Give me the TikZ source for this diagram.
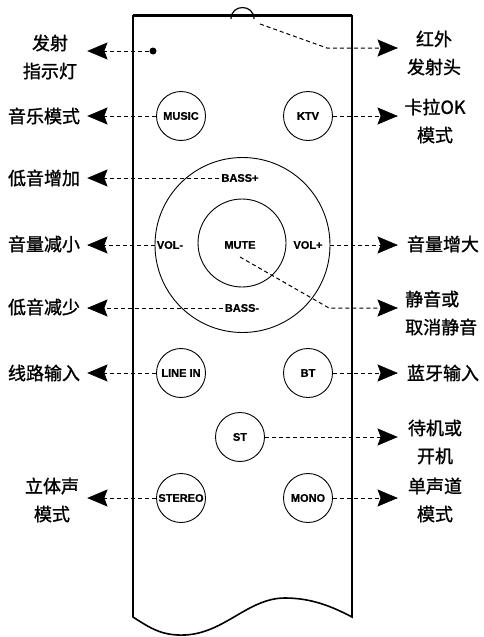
\documentclass[tikz,border=0pt]{standalone}
\usepackage{fontspec}
\setmainfont{Liberation Sans}
\newfontfamily\cjk{Noto Sans CJK SC}[FakeBold=1.2]
\newfontfamily\keyfont{Liberation Sans Bold}[FakeBold=0.8]
\usetikzlibrary{positioning}
\newcommand{\btnfont}{\keyfont\fontsize{11}{11}\selectfont}
\newcommand{\notefont}{\cjk\fontsize{18}{28}\selectfont}

\begin{document}
\begin{tikzpicture}[x=1pt,y=-1pt]
  %--------------------------------------------
  % Styles
  %--------------------------------------------
  \tikzset{
    body/.style={line width=1.6pt, black},
    button/.style={circle, draw, line width=0.9pt, minimum size=49pt, inner sep=0pt, font=\btnfont},
    ring/.style={circle, draw, line width=0.9pt, inner sep=0pt},
    keytext/.style={inner sep=0pt, font=\btnfont},
    note/.style={inner sep=0pt, align=center, font=\notefont},
    pointer/.style={line width=1pt, dash pattern=on 4pt off 3pt},
    tipleft/.pic={\filldraw[line width=0.6pt, line join=miter] (0,0) -- (19,-8) -- (16,0) -- (19,8) -- cycle;},
    tipright/.pic={\filldraw[line width=0.6pt, line join=miter] (0,0) -- (-19,-8) -- (-16,0) -- (-19,8) -- cycle;}
  }

  %--------------------------------------------
  % Parameters and key points
  %--------------------------------------------
  \def\bodyL{133}   % left edge of the remote
  \def\bodyR{352}   % right edge of the remote
  \useasboundingbox[fill=white] (0,0) rectangle (483,637);
  \coordinate (tipL) at (88,0);  % arrow tips on the left
  \coordinate (tipR) at (397,0); % arrow tips on the right

  %--------------------------------------------
  % Remote body
  %--------------------------------------------
  \draw[body] (\bodyL,15) -- (\bodyL,617)
    .. controls (150,628) and (162,636) .. (185,635)
    .. controls (225,633) and (248,598) .. (285,598)
    .. controls (312,598) and (333,607) .. (\bodyR,617) -- (\bodyR,15);
  \draw[line width=3pt] (\bodyL,15) -- (\bodyR,15);

  % IR window
  \draw[line width=1.2pt] (231,19) .. controls (231,3.7) and (254,3.7) .. (254,19);
  \coordinate (ir) at (260,24);
  \coordinate (irbend) at (327,48);

  % LED
  \node[circle, fill, inner sep=0pt, minimum size=7pt] (led) at (153,51) {};

  %--------------------------------------------
  % Buttons
  %--------------------------------------------
  \node[button] (music)  at (181,116) {MUSIC};
  \node[button] (ktv)    at (308,116) {KTV};
  \node[button] (linein) at (181,373) {LINE IN};
  \node[button] (bt)     at (308,373) {BT};
  \node[button] (st)     at (240,437) {ST};
  \node[button] (stereo) at (181,498) {STEREO};
  \node[button] (mono)   at (308,498) {MONO};

  % Volume ring
  \node[ring, minimum size=175pt] (outer) at (242.5,245) {};
  \node[ring, minimum size=88pt]  (inner) at (242,243) {};
  \node[keytext] (bassup) at (240,178) {BASS+};
  \node[keytext] (bassdn) at (242,308) {BASS-};
  \node[keytext] (voldn)  at (170,245) {VOL-};
  \node[keytext] (volup)  at (308,245) {VOL+};
  \node[keytext] (mute)   at (240,245) {MUTE};
  \coordinate (mutept) at (240,257);
  \coordinate (mutebend) at (329,308);

  %--------------------------------------------
  % Descriptions
  %--------------------------------------------
  \node[note] (ledlab)    at (50,57)   {发射\\指示灯};
  \node[note] (irlab)     at (434,53)  {红外\\发射头};
  \node[note] (musiclab)  at (44,116)  {音乐模式};
  \node[note] (ktvlab)    at (435,121) {卡拉OK\\模式};
  \node[note] (bassuplab) at (44,178)  {低音增加};
  \node[note] (voldnlab)  at (44,244)  {音量减小};
  \node[note] (voluplab)  at (443,244) {音量增大};
  \node[note] (bassdnlab) at (44,307)  {低音减少};
  \node[note, align=left, anchor=west] (mutelab) at (405,313) {静音或\\取消静音};
  \node[note] (lineinlab) at (44,373)  {线路输入};
  \node[note] (btlab)     at (443,373) {蓝牙输入};
  \node[note] (stlab)     at (435,442) {待机或\\开机};
  \node[note] (stereolab) at (52,500)  {立体声\\模式};
  \node[note] (monolab)   at (435,500) {单声道\\模式};

  %--------------------------------------------
  % Pointers
  %--------------------------------------------
  \foreach \b in {led,music,linein,stereo,outer.west}{
    \draw[pointer] (\b) -- (\b -| tipL);
    \pic at (\b -| tipL) {tipleft};
  }
  \foreach \b in {ktv.east,bt.east,st.east,mono.east,outer.east}{
    \draw[pointer] (\b) -- (\b -| tipR);
    \pic at (\b -| tipR) {tipright};
  }
  \foreach \b in {bassup,bassdn}{
    \draw[pointer, shorten <=2pt] (\b.west) -- (\b -| tipL);
    \pic at (\b -| tipL) {tipleft};
  }
  \draw[pointer] (ir) -- (irbend) -- (irbend -| tipR);
  \pic at (irbend -| tipR) {tipright};
  \draw[pointer] (mutept) -- (mutebend) -- (mutebend -| tipR);
  \pic at (mutebend -| tipR) {tipright};
\end{tikzpicture}
\end{document}
